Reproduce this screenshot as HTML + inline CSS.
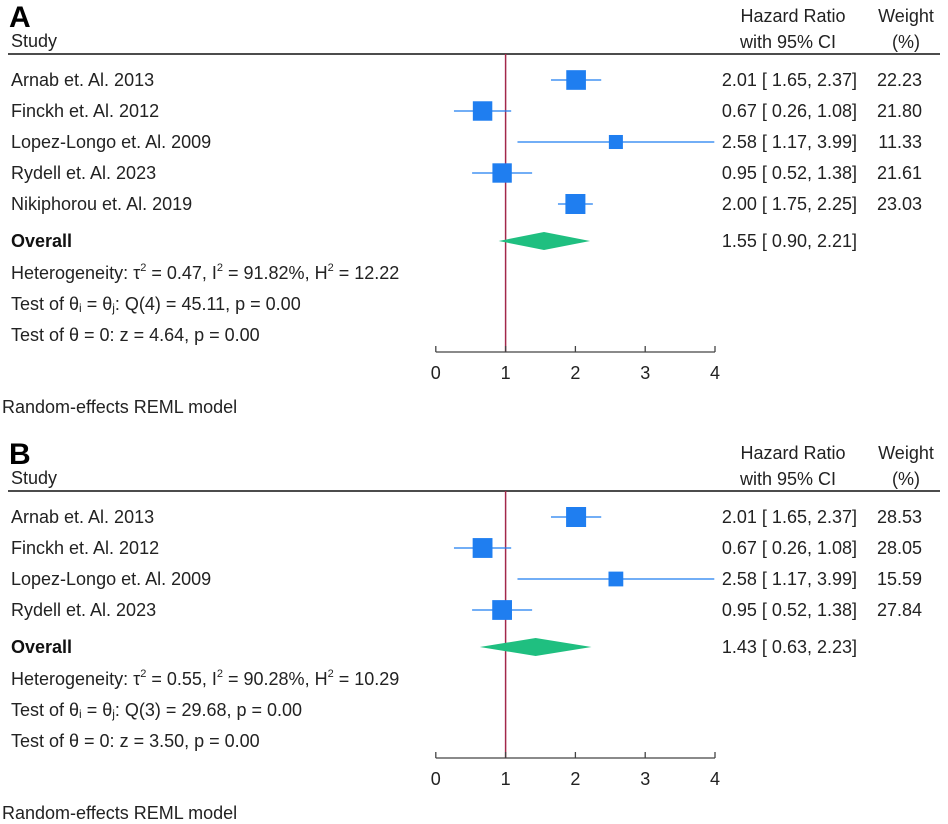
<!DOCTYPE html>
<html><head><meta charset="utf-8"><style>
html,body{margin:0;padding:0;background:#fff}
svg{display:block;font-family:"Liberation Sans",Arial,sans-serif}
</style></head><body>
<svg id="chart" width="948" height="824" viewBox="0 0 948 824" xmlns="http://www.w3.org/2000/svg"></svg>
<script>
// Panel A data
const studiesA = ["Arnab et. Al. 2013","Finckh et. Al. 2012","Lopez-Longo et. Al. 2009","Rydell et. Al. 2023","Nikiphorou et. Al. 2019"];
const hrA = [2.01,0.67,2.58,0.95,2.00];
const loA = [1.65,0.26,1.17,0.52,1.75];
const hiA = [2.37,1.08,3.99,1.38,2.25];
const weightA = [22.23,21.80,11.33,21.61,23.03];
const overallA = [1.55,0.90,2.21];
const hetA = ["0.47","91.82%","12.22"];
const qA = ["Q(4) = 45.11","p = 0.00"];
const zA = ["z = 4.64","p = 0.00"];
// Panel B data
const studiesB = ["Arnab et. Al. 2013","Finckh et. Al. 2012","Lopez-Longo et. Al. 2009","Rydell et. Al. 2023"];
const hrB = [2.01,0.67,2.58,0.95];
const loB = [1.65,0.26,1.17,0.52];
const hiB = [2.37,1.08,3.99,1.38];
const weightB = [28.53,28.05,15.59,27.84];
const overallB = [1.43,0.63,2.23];
const hetB = ["0.55","90.28%","10.29"];
const qB = ["Q(3) = 29.68","p = 0.00"];
const zB = ["z = 3.50","p = 0.00"];
const ticks = [0,1,2,3,4];

const NS="http://www.w3.org/2000/svg";
const svg=document.getElementById('chart');
function mk(tag,attrs,parent){const e=document.createElementNS(NS,tag);for(const k in attrs)e.setAttribute(k,attrs[k]);(parent||svg).appendChild(e);return e;}
const xs=v=>435.8+v*69.8;
const f2=v=>v.toFixed(2);
const FS=18;

function panel(letter,oy,studies,hr,lo,hi,w,ov,het,q,z){
  const g=mk('g',{});
  
  
  const n=studies.length;
  const rowY=i=>oy+80+i*31;
  const ovY=rowY(n-1)+37;
  const axisY=ovY+111;
  let t=mk('text',{x:9,y:oy+27,'font-size':30,'font-weight':'bold',fill:'#000'},g);t.textContent=letter;
  
  t=mk('text',{x:11,y:oy+47,'font-size':FS,fill:'#222'},g);t.textContent='Study';
  
  t=mk('text',{x:793,y:oy+22,'font-size':FS,fill:'#222','text-anchor':'middle'},g);t.textContent='Hazard Ratio';
  
  t=mk('text',{x:788,y:oy+48,'font-size':FS,fill:'#222','text-anchor':'middle'},g);t.textContent='with 95% CI';
  
  t=mk('text',{x:906,y:oy+22,'font-size':FS,fill:'#222','text-anchor':'middle'},g);t.textContent='Weight';
  
  t=mk('text',{x:906,y:oy+48,'font-size':FS,fill:'#222','text-anchor':'middle'},g);t.textContent='(%)';
  
  let l=mk('line',{x1:8,x2:940,y1:oy+54,y2:oy+54,stroke:'#111','stroke-width':1.5},g);
  
  l=mk('line',{x1:xs(1),x2:xs(1),y1:oy+54,y2:axisY,stroke:'#a3284a','stroke-width':1.5},g);
  
  const maxw=Math.max(...w);
  for(let i=0;i<n;i++){
    const y=rowY(i);
    t=mk('text',{x:11,y:y+6,'font-size':FS,fill:'#222'},g);t.textContent=studies[i];
    
    l=mk('line',{x1:xs(lo[i]),x2:xs(hi[i]),y1:y,y2:y,stroke:'#1f7ef0','stroke-width':1.3},g);
    
    const s=20*Math.sqrt(w[i]/maxw);
    const r=mk('rect',{x:xs(hr[i])-s/2,y:y-s/2,width:s,height:s,fill:'#1f7ef0'},g);
    
    t=mk('text',{x:857,y:y+6,'font-size':FS,fill:'#222','text-anchor':'end','xml:space':'preserve'},g);
    t.textContent=f2(hr[i])+' [ '+f2(lo[i])+',  '+f2(hi[i])+']';
    
    t=mk('text',{x:922,y:y+6,'font-size':FS,fill:'#222','text-anchor':'end'},g);t.textContent=f2(w[i]);
    
  }
  t=mk('text',{x:11,y:ovY+6,'font-size':FS,'font-weight':'bold',fill:'#111'},g);t.textContent='Overall';
  
  const d=mk('polygon',{points:`${xs(ov[1])},${ovY} ${xs(ov[0])},${ovY-9} ${xs(ov[2])},${ovY} ${xs(ov[0])},${ovY+9}`,fill:'#1fbf80'},g);
  
  t=mk('text',{x:857,y:ovY+6,'font-size':FS,fill:'#222','text-anchor':'end','xml:space':'preserve'},g);
  t.textContent=f2(ov[0])+' [ '+f2(ov[1])+',  '+f2(ov[2])+']';
  
  t=mk('text',{x:11,y:ovY+38,'font-size':FS,fill:'#222'},g);
  t.innerHTML='Heterogeneity: τ<tspan dy="-8" font-size="11">2</tspan><tspan dy="8"> = '+het[0]+', I</tspan><tspan dy="-8" font-size="11">2</tspan><tspan dy="8"> = '+het[1]+', H</tspan><tspan dy="-8" font-size="11">2</tspan><tspan dy="8"> = '+het[2]+'</tspan>';
  
  t=mk('text',{x:11,y:ovY+69,'font-size':FS,fill:'#222'},g);
  t.innerHTML='Test of θ<tspan font-size="12" dy="2">i</tspan><tspan dy="-2"> = θ</tspan><tspan font-size="12" dy="2">j</tspan><tspan dy="-2">: '+q[0]+', '+q[1]+'</tspan>';
  
  t=mk('text',{x:11,y:ovY+100,'font-size':FS,fill:'#222'},g);
  t.textContent='Test of θ = 0: '+z[0]+', '+z[1];
  
  l=mk('line',{x1:xs(0),x2:xs(4),y1:axisY,y2:axisY,stroke:'#444','stroke-width':1.3},g);
  
  ticks.forEach(v=>{
    const tk=mk('line',{x1:xs(v),x2:xs(v),y1:axisY,y2:axisY-6,stroke:'#444','stroke-width':1.3},g);
    
    const tl=mk('text',{x:xs(v),y:axisY+27,'font-size':FS,fill:'#222','text-anchor':'middle'},g);tl.textContent=v;
    
  });
  t=mk('text',{x:2,y:axisY+61,'font-size':FS,fill:'#222'},g);t.textContent='Random-effects REML model';
  
}
panel('A',0,studiesA,hrA,loA,hiA,weightA,overallA,hetA,qA,zA);
panel('B',437,studiesB,hrB,loB,hiB,weightB,overallB,hetB,qB,zB);
</script>
</body></html>
